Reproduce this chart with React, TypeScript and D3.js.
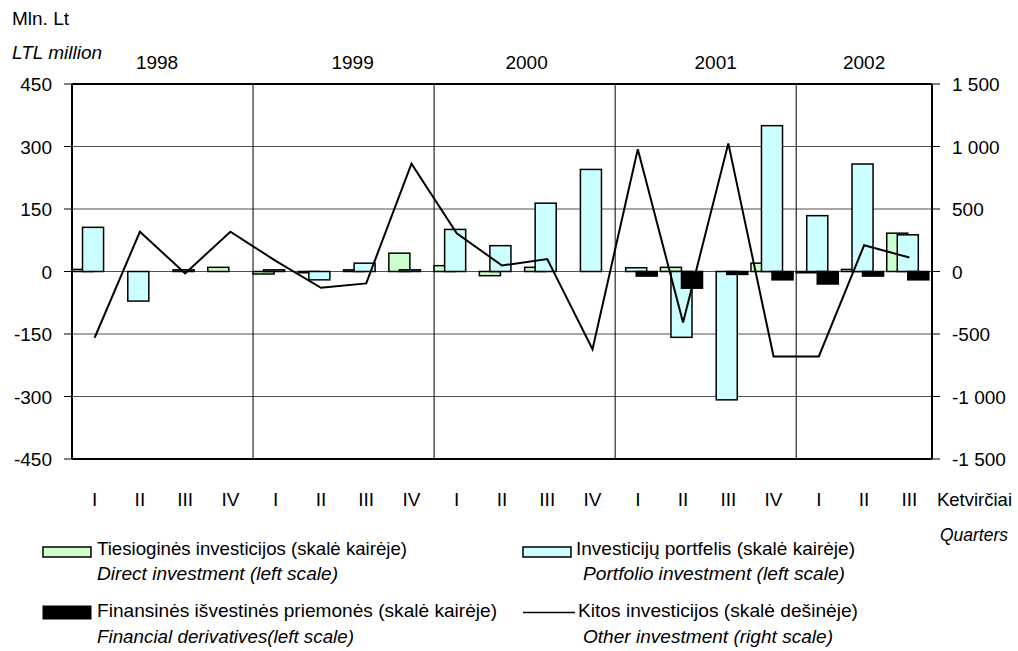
import React from 'react';
import * as d3 from 'd3';

const quarters = ['I', 'II', 'III', 'IV', 'I', 'II', 'III', 'IV', 'I', 'II', 'III', 'IV', 'I', 'II', 'III', 'IV', 'I', 'II', 'III'];
const years = ['1998', '1999', '2000', '2001', '2002'];
const directInvestment = [5, 0, 0, 10, -6, -3, 4, 44, 14, -10, 10, 0, 0, 10, 0, 20, -3, 5, 92];
const portfolioInvestment = [106, -71, 4, 0, 4, -20, 20, 4, 101, 62, 164, 245, 9, -158, -308, 350, 134, 258, 88];
const financialDerivatives = [0, 0, 0, 0, 0, 0, 0, 0, 0, 0, 0, 0, -11, -40, -7, -20, -30, -11, -20];
const otherInvestment = [-530, 318, -15, 318, 85, -130, -95, 862, 305, 48, 100, -622, 978, -408, 1025, -680, -680, 210, 112];
const leftTicks = [-450, -300, -150, 0, 150, 300, 450];
const rightTicks = [-1500, -1000, -500, 0, 500, 1000, 1500];

const W = 1018;
const H = 651;
const M = { left: 72, right: 932, top: 84, bottom: 459 };
const FONT = "'Liberation Sans', Arial, sans-serif";

const fmt = (v: number) => {
  const s = Math.abs(v).toString().replace(/\B(?=(\d{3})+(?!\d))/g, ' ');
  return (v < 0 ? '-' : '') + s;
};

export default function App() {
  const idx = quarters.map((_, i) => i);
  const x = d3.scaleBand<number>().domain(idx).range([M.left, M.right]).paddingInner(0).paddingOuter(0);
  const yL = d3.scaleLinear().domain([-450, 450]).range([M.bottom, M.top]);
  const yR = d3.scaleLinear().domain([-1500, 1500]).range([M.bottom, M.top]);
  const bw = x.bandwidth() * 0.465;

  const series = [
    { data: directInvestment, fill: '#CCFFCC', off: 0 },
    { data: portfolioInvestment, fill: '#CCFFFF', off: bw / 2 },
    { data: financialDerivatives, fill: '#000000', off: bw },
  ];

  const line = d3
    .line<number>()
    .x((_, i) => (x(i) as number) + x.bandwidth() / 2)
    .y((d) => yR(d));

  // year groups: start index of each year
  const yearStarts = [0, 4, 8, 12, 16];
  const yearCounts = [4, 4, 4, 4, 3];
  const yearOffsets = [-5.5, 9, 2, 10, 0];

  return (
    <svg
      width={W}
      height={H}
      style={{ position: 'absolute', left: 0, top: 0, background: '#fff' }}
      fontFamily={FONT}
      fontSize={19}
    >
      <rect x={0} y={0} width={W} height={H} fill="#fff" />
      {/* horizontal grid */}
      {leftTicks.map((t) => (
        <line key={'g' + t} x1={M.left} x2={M.right} y1={yL(t)} y2={yL(t)} stroke="#505050" strokeWidth={1} />
      ))}
      {/* year separators */}
      {yearStarts.slice(1).map((s) => (
        <line key={'v' + s} x1={x(s)} x2={x(s)} y1={M.top} y2={M.bottom} stroke="#000" strokeWidth={1} />
      ))}
      {/* bars */}
      {series.map((s, si) =>
        s.data.map((v, i) =>
          v === 0 ? null : (
            <rect
              key={si + '-' + i}
              x={(x(i) as number) + s.off}
              y={Math.min(yL(v), yL(0))}
              width={bw}
              height={Math.abs(yL(v) - yL(0))}
              fill={s.fill}
              stroke="#000"
              strokeWidth={1.5}
            />
          )
        )
      )}
      {/* other investment line */}
      <path d={line(otherInvestment) || ''} fill="none" stroke="#000" strokeWidth={2} />
      {/* frame */}
      <line x1={M.left} x2={M.right} y1={M.top} y2={M.top} stroke="#000" strokeWidth={2} />
      <line x1={M.left} x2={M.right} y1={M.bottom} y2={M.bottom} stroke="#000" strokeWidth={2} />
      <line x1={M.left} x2={M.left} y1={M.top} y2={M.bottom} stroke="#000" strokeWidth={2} />
      <line x1={M.right} x2={M.right} y1={M.top} y2={M.bottom} stroke="#000" strokeWidth={2} />
      {/* left axis */}
      {leftTicks.map((t) => (
        <g key={'l' + t}>
          <line x1={M.left - 8} x2={M.left} y1={yL(t)} y2={yL(t)} stroke="#000" strokeWidth={1} />
          <text x={52} y={yL(t) + 7} textAnchor="end" fill="#000">
            {fmt(t)}
          </text>
        </g>
      ))}
      {/* right axis */}
      {rightTicks.map((t) => (
        <g key={'r' + t}>
          <line x1={M.right} x2={M.right + 8} y1={yR(t)} y2={yR(t)} stroke="#000" strokeWidth={1} />
          <text x={952} y={yR(t) + 7} fill="#000">
            {fmt(t)}
          </text>
        </g>
      ))}
      {/* quarter labels */}
      {quarters.map((q, i) => (
        <text key={'q' + i} x={(x(i) as number) + x.bandwidth() / 2} y={506} textAnchor="middle">
          {q}
        </text>
      ))}
      {/* year labels */}
      {years.map((yr, k) => (
        <text
          key={yr}
          x={(x(yearStarts[k]) as number) + (x.bandwidth() * yearCounts[k]) / 2 + yearOffsets[k]}
          y={68.5}
          textAnchor="middle"
        >
          {yr}
        </text>
      ))}
      {/* unit labels */}
      <text x={12} y={25}>Mln. Lt</text>
      <text x={12} y={59} fontStyle="italic">LTL million</text>
      <text x={937} y={506} textLength={75} lengthAdjust="spacingAndGlyphs">Ketvirčiai</text>
      <text x={940} y={541} fontStyle="italic" textLength={68} lengthAdjust="spacingAndGlyphs">Quarters</text>
      {/* legend */}
      <rect x={43} y={547} width={48} height={10} fill="#CCFFCC" stroke="#000" strokeWidth={1.5} />
      <text x={97} y={555} textLength={310} lengthAdjust="spacingAndGlyphs">Tiesioginės investicijos (skalė kairėje)</text>
      <text x={97} y={580} fontStyle="italic" textLength={241} lengthAdjust="spacingAndGlyphs">Direct investment (left scale)</text>
      <rect x={43} y={606} width={48} height={13} fill="#000" stroke="#000" strokeWidth={1} />
      <text x={97} y={617} textLength={400} lengthAdjust="spacingAndGlyphs">Finansinės išvestinės priemonės  (skalė kairėje)</text>
      <text x={97} y={643} fontStyle="italic" textLength={257} lengthAdjust="spacingAndGlyphs">Financial derivatives(left scale)</text>
      <rect x={523} y={547} width={48} height={10} fill="#CCFFFF" stroke="#000" strokeWidth={1.5} />
      <text x={576} y={555} textLength={279} lengthAdjust="spacingAndGlyphs">Investicijų portfelis  (skalė kairėje)</text>
      <text x={583} y={580} fontStyle="italic" textLength={262} lengthAdjust="spacingAndGlyphs">Portfolio investment (left scale)</text>
      <line x1={523} x2={575} y1={612.5} y2={612.5} stroke="#000" strokeWidth={1.5} />
      <text x={578} y={617} textLength={280} lengthAdjust="spacingAndGlyphs">Kitos investicijos  (skalė dešinėje)</text>
      <text x={583} y={643} fontStyle="italic" textLength={250} lengthAdjust="spacingAndGlyphs">Other investment (right scale)</text>
    </svg>
  );
}
